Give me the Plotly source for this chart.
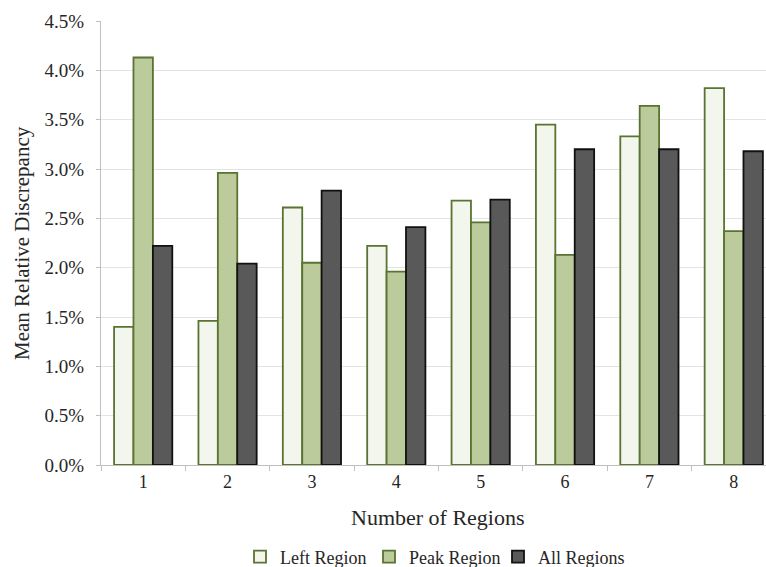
import plotly.graph_objects as go

# Mean relative discrepancy by number of regions
categories = ["1", "2", "3", "4", "5", "6", "7", "8"]
left_region = [0.0140, 0.0146, 0.0261, 0.0222, 0.0268, 0.0345, 0.0333, 0.0382]
peak_region = [0.0413, 0.0296, 0.0205, 0.0196, 0.0246, 0.0213, 0.0364, 0.0237]
all_regions = [0.0222, 0.0204, 0.0278, 0.0241, 0.0269, 0.0320, 0.0320, 0.0318]

FONT = "Times New Roman, Liberation Serif, Tinos, DejaVu Serif, serif"
TXT = "#262626"
OLIVE = "#5a7330"

fig = go.Figure()
fig.add_trace(go.Bar(x=categories, y=left_region, name="Left Region",
                     marker=dict(color="#f3f6ec", line=dict(color=OLIVE, width=1.8))))
fig.add_trace(go.Bar(x=categories, y=peak_region, name="Peak Region",
                     marker=dict(color="#bccb9c", line=dict(color=OLIVE, width=1.8))))
fig.add_trace(go.Bar(x=categories, y=all_regions, name="All Regions",
                     marker=dict(color="#595959", line=dict(color="#111111", width=1.8))))

fig.update_layout(
    width=766, height=567,
    margin=dict(l=101, r=0, t=21, b=102, autoexpand=False),
    paper_bgcolor="white", plot_bgcolor="white",
    barmode="group", bargap=0.31, bargroupgap=0,
    font=dict(family=FONT, color=TXT, size=18),
    showlegend=True,
    legend=dict(orientation="h", x=0.5, xanchor="center", y=-0.207, yanchor="middle",
                font=dict(family=FONT, size=18, color=TXT),
                itemwidth=30, entrywidth=84, entrywidthmode="pixels",
                tracegroupgap=0, bgcolor="rgba(0,0,0,0)"),
    xaxis=dict(
        type="category", range=[-0.5, 7.382],
        showline=True, linecolor="#bfbfbf", linewidth=1,
        ticks="outside", tickson="boundaries", ticklen=5, tickcolor="#bfbfbf",
        tickfont=dict(family=FONT, size=18, color=TXT),
        showgrid=False, zeroline=False,
    ),
    yaxis=dict(
        range=[0, 0.045], dtick=0.005, tickformat=".1%",
        showline=True, linecolor="#bfbfbf", linewidth=1,
        ticks="outside", ticklen=4, tickcolor="#bfbfbf",
        ticklabelstandoff=8,
        tickfont=dict(family=FONT, size=19, color=TXT),
        showgrid=True, gridcolor="#e3e3e3", gridwidth=1, zeroline=False,
    ),
    annotations=[
        dict(text="Number of Regions", xref="paper", yref="paper",
             x=(438 - 101) / 665, y=(465 - 517) / 444, xanchor="center", yanchor="middle",
             showarrow=False, font=dict(family=FONT, size=22, color=TXT)),
        dict(text="Mean Relative Discrepancy", xref="paper", yref="paper",
             x=(22 - 101) / 665, y=0.5, xanchor="center", yanchor="middle", textangle=-90,
             showarrow=False, font=dict(family=FONT, size=21, color=TXT)),
    ],
)

fig.write_html("out.html")
